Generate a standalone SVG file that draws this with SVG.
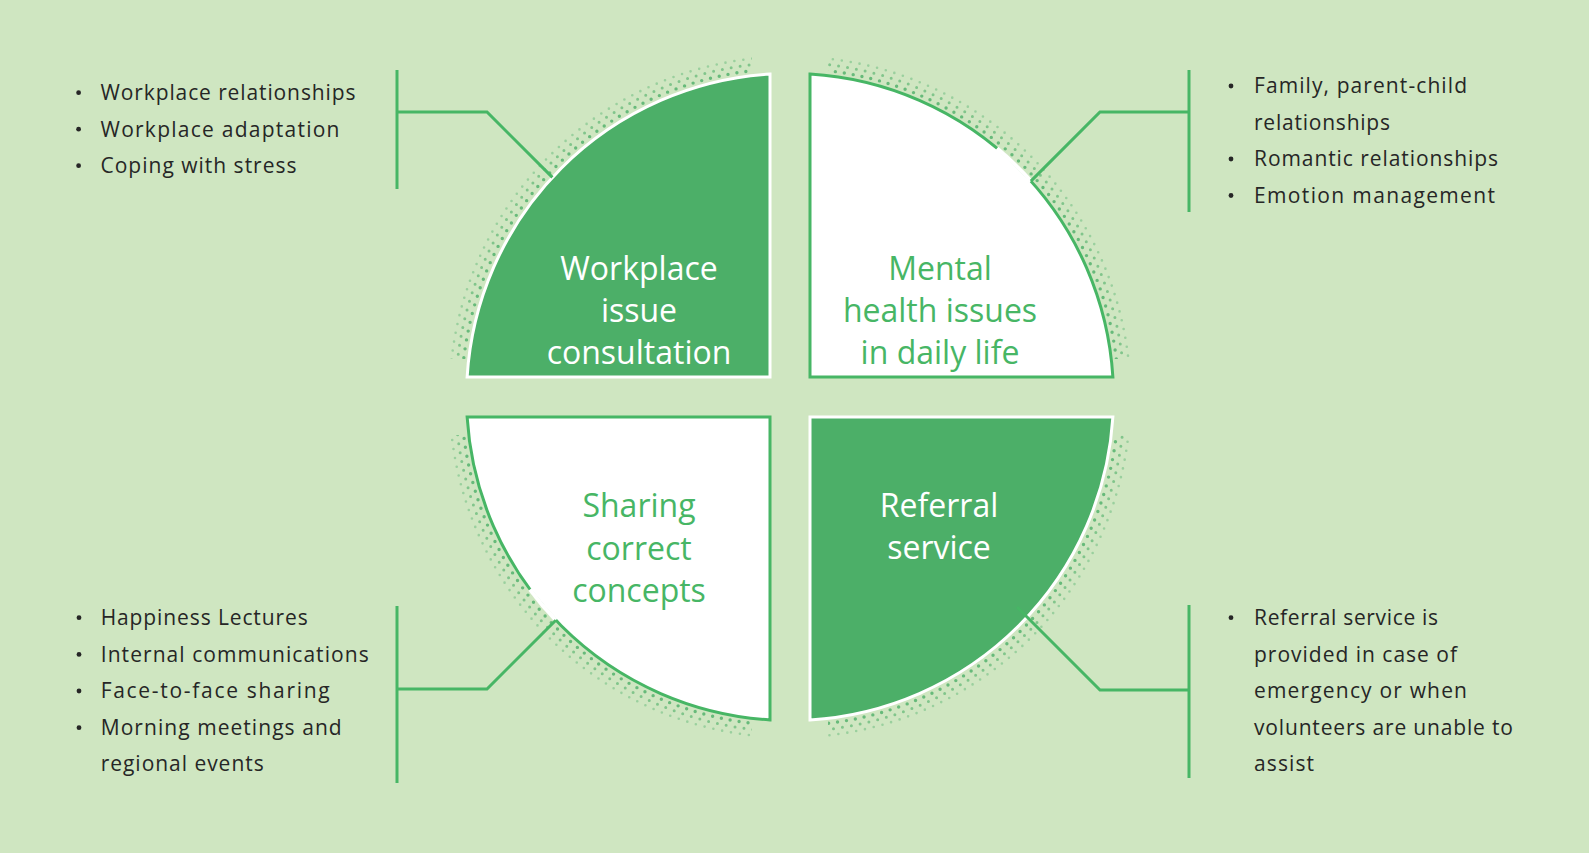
<svg xmlns="http://www.w3.org/2000/svg" width="1589" height="853" viewBox="0 0 1589 853">
<style>
.bg{fill:#cfe6c1}
.qg{fill:#4caf68;stroke:#ffffff;stroke-width:3}
.qw{fill:#ffffff;stroke:#47b665;stroke-width:3}
.lbl{font-family:"Open Sans","Liberation Sans",sans-serif;font-size:32px;font-weight:500;text-anchor:middle}
.lw{fill:#ffffff}
.lgn{fill:#47b665}
.li{font-family:"Open Sans","Liberation Sans",sans-serif;font-size:21px;fill:#262626}
.bul{fill:#262626}
.con{fill:none;stroke:#47b665;stroke-width:3}
.ring{fill:none;stroke:#4caf68;stroke-linecap:round}
.gap{fill:none;stroke:#ffffff;stroke-width:4}
</style>
<defs>
<mask id="cross">
<rect x="0" y="0" width="1589" height="853" fill="#fff"/>
<rect x="752" y="0" width="76" height="853" fill="#000"/>
<rect x="0" y="359" width="1589" height="76" fill="#000"/>
</mask>
</defs>
<rect class="bg" x="0" y="0" width="1589" height="853"/>

<g id="dots" mask="url(#cross)">
<circle class="ring" cx="790" cy="397" r="328.5" stroke-width="3.4" stroke-dasharray="0 9" opacity="0.8"/>
<circle class="ring" cx="790" cy="397" r="334.5" stroke-width="3" stroke-dasharray="0 9" stroke-dashoffset="4.5" opacity="0.6"/>
<circle class="ring" cx="790" cy="397" r="340.5" stroke-width="2.6" stroke-dasharray="0 9" opacity="0.4"/>
</g>

<g id="q-workplace">
<path class="qg" d="M770,377 L467.12,377 A323.5,323.5 0 0 1 770,74.12 Z"/>
<text class="lbl lw" x="639" y="279.5">Workplace</text>
<text class="lbl lw" x="639" y="321.5">issue</text>
<text class="lbl lw" x="639" y="363.5">consultation</text>
</g>

<g id="q-mental">
<path class="qw" d="M810,377 L810,74.12 A323.5,323.5 0 0 1 1112.88,377 Z"/>
<path class="gap" d="M997,148.4 A323.5,323.5 0 0 1 1030.9,181.1"/>
<text class="lbl lgn" x="940" y="280">Mental</text>
<text class="lbl lgn" x="940" y="322">health issues</text>
<text class="lbl lgn" x="940" y="364">in daily life</text>
</g>

<g id="q-sharing">
<path class="qw" d="M770,417 L770,719.88 A323.5,323.5 0 0 1 467.12,417 Z"/>
<path class="gap" d="M555.8,620.2 A323.5,323.5 0 0 1 530,589.5"/>
<text class="lbl lgn" x="639" y="517">Sharing</text>
<text class="lbl lgn" x="639" y="559.5">correct</text>
<text class="lbl lgn" x="639" y="602">concepts</text>
</g>

<g id="q-referral">
<path class="qg" d="M810,417 L1112.88,417 A323.5,323.5 0 0 1 810,719.88 Z"/>
<text class="lbl lw" x="939" y="517">Referral</text>
<text class="lbl lw" x="939" y="559">service</text>
</g>

<g id="connectors">
<path class="con" d="M397,70 V189"/>
<path class="con" d="M397,112 H487 L552.4,177.4"/>
<path class="con" d="M1189,70 V212"/>
<path class="con" d="M1189,112 H1100 L1030.9,181.1"/>
<path class="con" d="M397,606 V783"/>
<path class="con" d="M397,689 H487 L555.8,620.2"/>
<path class="con" d="M1189,605 V778"/>
<path class="con" d="M1189,690 H1100 L1017,607"/>
</g>

<g id="list-workplace">
<circle class="bul" cx="78.6" cy="92.7" r="2.4"/>
<circle class="bul" cx="78.6" cy="129.2" r="2.4"/>
<circle class="bul" cx="78.6" cy="165.7" r="2.4"/>
<text class="li" x="100.5" y="100" textLength="255" lengthAdjust="spacing">Workplace relationships</text>
<text class="li" x="100.5" y="136.5" textLength="239" lengthAdjust="spacing">Workplace adaptation</text>
<text class="li" x="100.5" y="173" textLength="196" lengthAdjust="spacing">Coping with stress</text>
</g>

<g id="list-mental">
<circle class="bul" cx="1231" cy="86" r="2.4"/>
<circle class="bul" cx="1231" cy="159" r="2.4"/>
<circle class="bul" cx="1231" cy="195.5" r="2.4"/>
<text class="li" x="1254" y="93.3" textLength="213" lengthAdjust="spacing">Family, parent-child</text>
<text class="li" x="1254" y="129.8" textLength="136" lengthAdjust="spacing">relationships</text>
<text class="li" x="1254" y="166.3" textLength="244" lengthAdjust="spacing">Romantic relationships</text>
<text class="li" x="1254" y="202.8" textLength="241" lengthAdjust="spacing">Emotion management</text>
</g>

<g id="list-sharing">
<circle class="bul" cx="79" cy="617.7" r="2.4"/>
<circle class="bul" cx="79" cy="654.4" r="2.4"/>
<circle class="bul" cx="79" cy="691" r="2.4"/>
<circle class="bul" cx="79" cy="727.7" r="2.4"/>
<text class="li" x="100.7" y="625" textLength="207" lengthAdjust="spacing">Happiness Lectures</text>
<text class="li" x="100.7" y="661.7" textLength="268" lengthAdjust="spacing">Internal communications</text>
<text class="li" x="100.7" y="698.3" textLength="229" lengthAdjust="spacing">Face-to-face sharing</text>
<text class="li" x="100.7" y="735" textLength="241" lengthAdjust="spacing">Morning meetings and</text>
<text class="li" x="100.7" y="771" textLength="163" lengthAdjust="spacing">regional events</text>
</g>

<g id="list-referral">
<circle class="bul" cx="1231" cy="617.7" r="2.4"/>
<text class="li" x="1254" y="625" textLength="184" lengthAdjust="spacing">Referral service is</text>
<text class="li" x="1254" y="661.7" textLength="203" lengthAdjust="spacing">provided in case of</text>
<text class="li" x="1254" y="698.3" textLength="213" lengthAdjust="spacing">emergency or when</text>
<text class="li" x="1254" y="735" textLength="259" lengthAdjust="spacing">volunteers are unable to</text>
<text class="li" x="1254" y="771" textLength="60" lengthAdjust="spacing">assist</text>
</g>
</svg>
